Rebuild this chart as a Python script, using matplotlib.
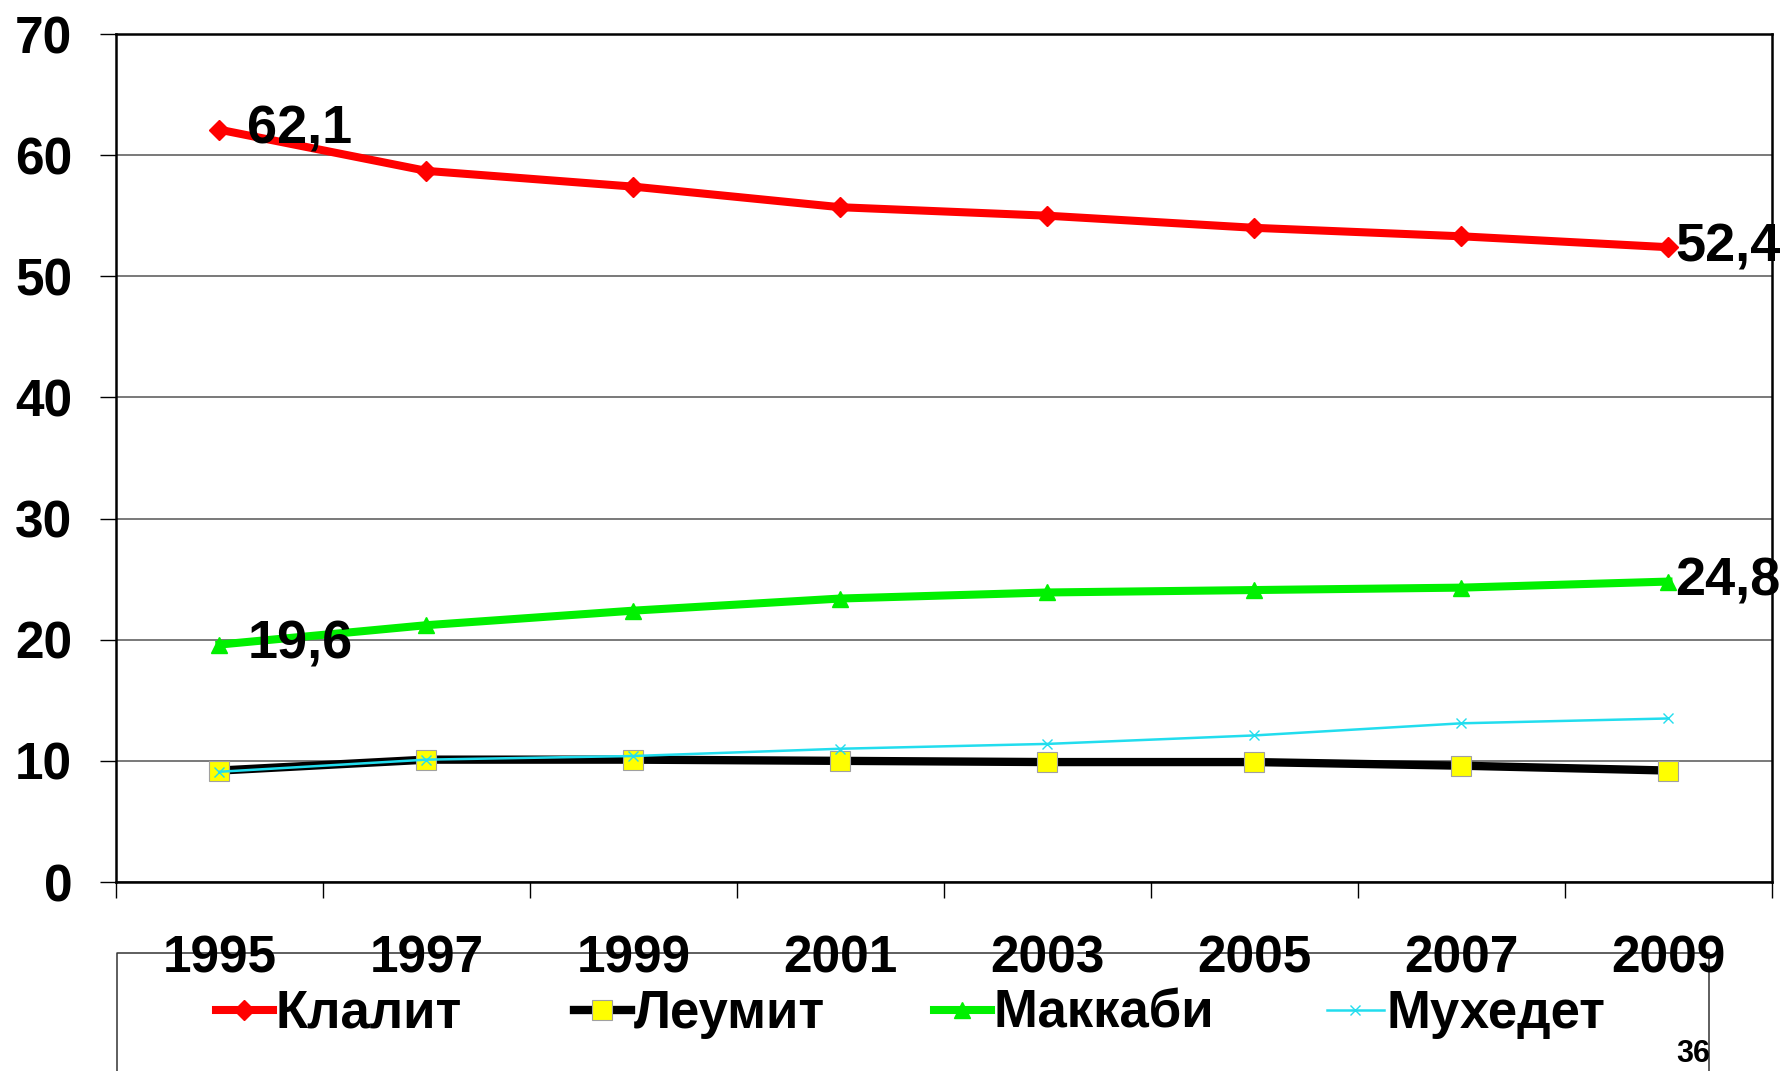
import matplotlib
matplotlib.use('Agg')
import matplotlib.pyplot as plt
from matplotlib.lines import Line2D
import numpy as np

# Market share of health funds, %
years = ['1995', '1997', '1999', '2001', '2003', '2005', '2007', '2009']
klalit = [62.1, 58.7, 57.4, 55.7, 55.0, 54.0, 53.3, 52.4]
leumit = [9.2, 10.1, 10.1, 10.0, 9.9, 9.9, 9.6, 9.2]
maccabi = [19.6, 21.2, 22.4, 23.4, 23.9, 24.1, 24.3, 24.8]
mukhedet = [9.1, 10.1, 10.4, 11.0, 11.4, 12.1, 13.1, 13.5]
series_names = ['Клалит', 'Леумит', 'Маккаби', 'Мухедет']
y_ticks = [0, 10, 20, 30, 40, 50, 60, 70]
slide_number = '36'

plt.rcParams['font.family'] = ['Liberation Sans', 'DejaVu Sans']
plt.rcParams['font.weight'] = 'bold'

W, H = 1781, 1071
fig = plt.figure(figsize=(W / 100, H / 100), dpi=100)
ax = fig.add_axes([116 / W, 1 - 882 / H, (1772 - 116) / W, (882 - 34) / H])

x = np.arange(len(years))

styles = [
    dict(color='#FF0000', lw=5.8, marker='D', ms=10, mfc='#FF0000', mec='#FF0000'),
    dict(color='#000000', lw=6, marker='s', ms=14.5, mfc='#FFFF00', mec='#A0A0A0', mew=0.8),
    dict(color='#00F000', lw=5.8, marker='^', ms=12, mfc='#00F000', mec='#00F000'),
    dict(color='#22DDEE', lw=1.8, marker='x', ms=7.5, mec='#22DDEE', mew=1.0),
]
values = [klalit, leumit, maccabi, mukhedet]
handles = []
for name, vals, st in zip(series_names, values, styles):
    h, = ax.plot(x, vals, label=name, clip_on=False, zorder=3, **st)
    handles.append(h)

def fmt(v):
    return f'{v:.1f}'.replace('.', ',')

# Value labels at the first and last year of the two big funds
for vals in (klalit, maccabi):
    ax.annotate(fmt(vals[0]), (x[0], vals[0]), xytext=(20, 0),
                textcoords='offset points', ha='left', va='center',
                fontsize=39, fontweight='bold', zorder=5)
    ax.annotate(fmt(vals[-1]), (x[-1], vals[-1]), xytext=(5, 0),
                textcoords='offset points', ha='left', va='center',
                fontsize=39, fontweight='bold', zorder=5)

ax.set_xlim(-0.5, len(years) - 0.5)
ax.set_ylim(0, 70)
ax.set_yticks(y_ticks)
ax.set_yticklabels([str(t) for t in y_ticks], fontsize=37, fontweight='bold')
ax.set_xticks(np.arange(-0.5, len(years), 1))
ax.set_xticklabels([])
ax.set_xticks(x, minor=True)
ax.set_xticklabels(years, minor=True, fontsize=37, fontweight='bold')
ax.tick_params(axis='x', which='major', length=11.5, width=1.0, direction='out')
ax.tick_params(axis='x', which='minor', length=0, pad=38)
ax.tick_params(axis='y', length=11.5, width=1.0, direction='out', pad=20)

ax.yaxis.grid(True, color='#555555', lw=1.1)
ax.set_axisbelow(True)
for sp in ax.spines.values():
    sp.set_color('#000000')
    sp.set_linewidth(1.8)

# Legend entries laid out in one row
legend_x = [216, 574, 934, 1327]
legend_y = 1 - 1014 / H
for h, name, lx in zip(handles, series_names, legend_x):
    fig.legend([h], [name], loc='center left', bbox_to_anchor=(lx / W, legend_y),
               frameon=False, borderpad=0, borderaxespad=0, handlelength=1.08,
               handletextpad=0.05, prop=dict(size=38, weight='bold'))

# Legend frame, open at the bottom of the page
box_color = '#333333'
fig.add_artist(Line2D([117 / W, 117 / W, 1709 / W, 1709 / W],
                      [-0.05, 1 - 953 / H, 1 - 953 / H, -0.05],
                      transform=fig.transFigure, color=box_color, lw=1.1, zorder=-1))

fig.text(1693 / W, 1 - 1069 / H, slide_number, ha='center', va='bottom',
         fontsize=22, fontweight='bold')

fig.savefig('out.png', dpi=100)
